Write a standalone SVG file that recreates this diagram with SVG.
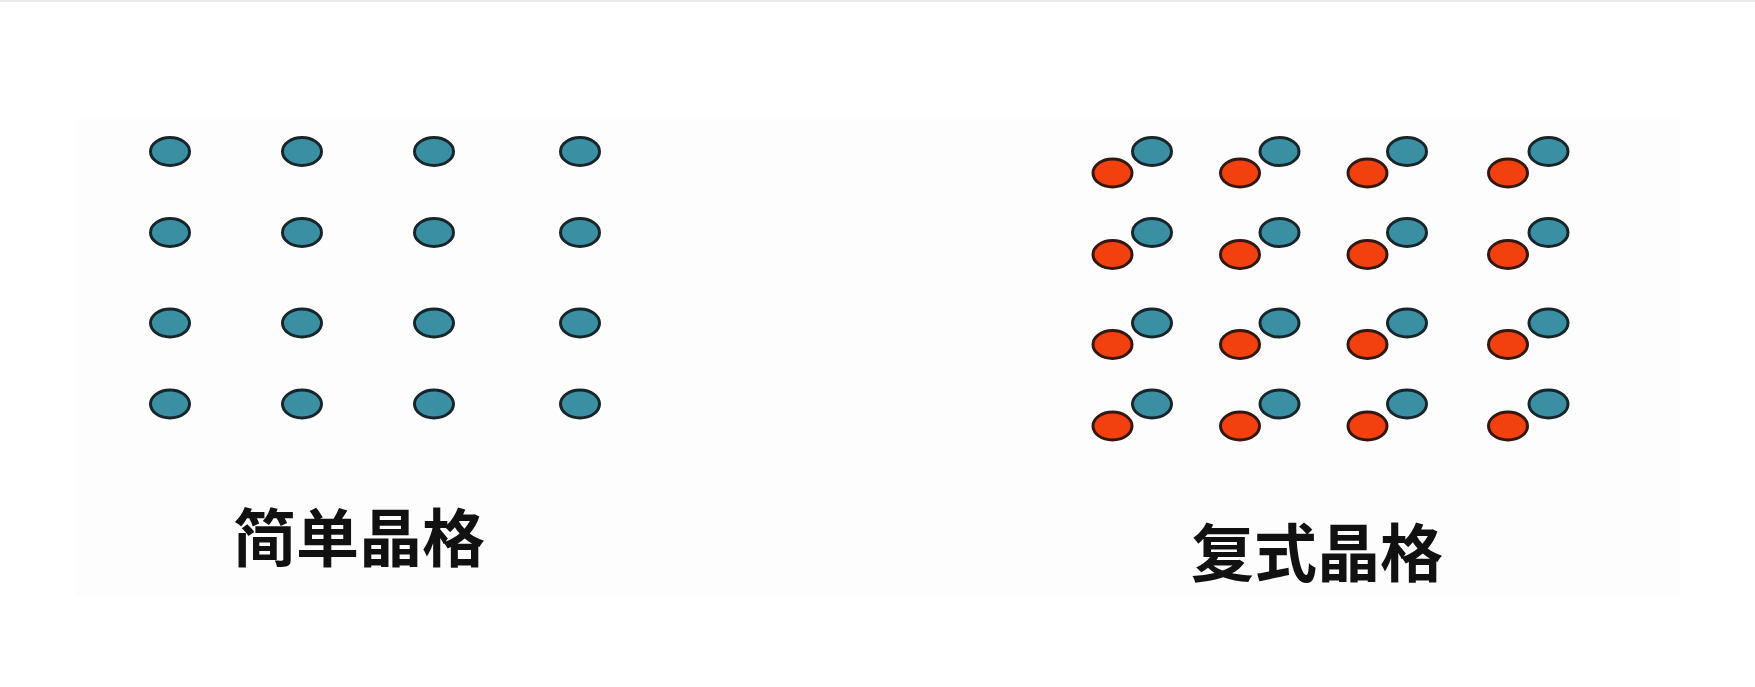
<svg xmlns="http://www.w3.org/2000/svg" width="1755" height="687" viewBox="0 0 1755 687">
<defs>
<style>
.b{fill:#3a90a2;stroke:#18262c;stroke-width:3}
.r{fill:#f2400f;stroke:#341810;stroke-width:3}
.t{font-family:"Noto Sans CJK SC","Liberation Sans",sans-serif;font-weight:bold;font-size:63px;fill:#111;text-anchor:middle}
</style>
<ellipse id="a" cx="0" cy="0" rx="19.5" ry="14" class="b"/>
<ellipse id="c" cx="0" cy="0" rx="19.5" ry="14" class="r"/>
</defs>
<rect width="1755" height="687" fill="#ffffff"/>
<rect x="0" y="0" width="1755" height="2" fill="#e8e8e8"/>
<rect x="76" y="118" width="1604" height="478" fill="#fdfdfd"/>
<g id="simple-lattice">
<use href="#a" x="170" y="151.5"/><use href="#a" x="302" y="151.5"/><use href="#a" x="434" y="151.5"/><use href="#a" x="580" y="151.5"/>
<use href="#a" x="170" y="232.5"/><use href="#a" x="302" y="232.5"/><use href="#a" x="434" y="232.5"/><use href="#a" x="580" y="232.5"/>
<use href="#a" x="170" y="323"/><use href="#a" x="302" y="323"/><use href="#a" x="434" y="323"/><use href="#a" x="580" y="323"/>
<use href="#a" x="170" y="404"/><use href="#a" x="302" y="404"/><use href="#a" x="434" y="404"/><use href="#a" x="580" y="404"/>
</g>
<g id="complex-lattice">
<use href="#c" x="1112.5" y="173"/><use href="#c" x="1240" y="173"/><use href="#c" x="1367.5" y="173"/><use href="#c" x="1508" y="173"/>
<use href="#a" x="1152" y="151.5"/><use href="#a" x="1279.5" y="151.5"/><use href="#a" x="1407" y="151.5"/><use href="#a" x="1548.5" y="151.5"/>
<use href="#c" x="1112.5" y="254.5"/><use href="#c" x="1240" y="254.5"/><use href="#c" x="1367.5" y="254.5"/><use href="#c" x="1508" y="254.5"/>
<use href="#a" x="1152" y="232.5"/><use href="#a" x="1279.5" y="232.5"/><use href="#a" x="1407" y="232.5"/><use href="#a" x="1548.5" y="232.5"/>
<use href="#c" x="1112.5" y="344.5"/><use href="#c" x="1240" y="344.5"/><use href="#c" x="1367.5" y="344.5"/><use href="#c" x="1508" y="344.5"/>
<use href="#a" x="1152" y="323"/><use href="#a" x="1279.5" y="323"/><use href="#a" x="1407" y="323"/><use href="#a" x="1548.5" y="323"/>
<use href="#c" x="1112.5" y="426"/><use href="#c" x="1240" y="426"/><use href="#c" x="1367.5" y="426"/><use href="#c" x="1508" y="426"/>
<use href="#a" x="1152" y="404"/><use href="#a" x="1279.5" y="404"/><use href="#a" x="1407" y="404"/><use href="#a" x="1548.5" y="404"/>
</g>
<g id="labels">
<text class="t" x="359" y="561">简单晶格</text>
<text class="t" x="1317" y="576">复式晶格</text>
</g>
<g id="connectors"/>
</svg>
